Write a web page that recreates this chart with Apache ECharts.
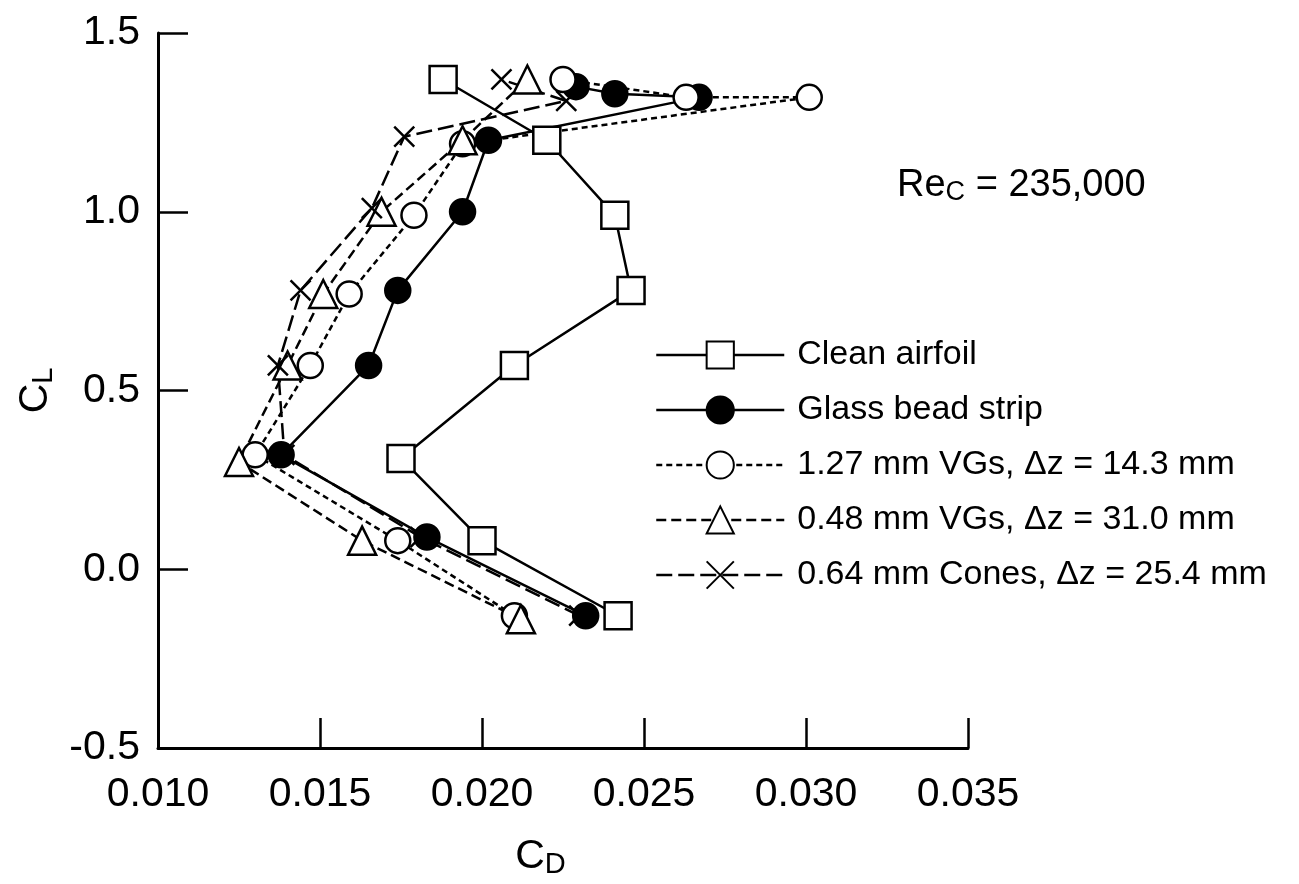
<!DOCTYPE html>
<html>
<head>
<meta charset="utf-8">
<title>CL vs CD</title>
<script src="https://cdn.jsdelivr.net/npm/echarts@6/dist/echarts.min.js"></script>
<style>
  html, body { margin: 0; padding: 0; background: #fff; }
  #chart { width: 1299px; height: 884px; }
</style>
</head>
<body>
<div id="chart"></div>
<script>
// values, in plotting order
var cleanCD = [0.0242, 0.0200, 0.0175, 0.0210, 0.0246, 0.0241, 0.0220, 0.0188];
var cleanCL = [-0.13, 0.08, 0.31, 0.57, 0.78, 0.99, 1.20, 1.37];

var beadCD = [0.0232, 0.0183, 0.0138, 0.0165, 0.0174, 0.0194, 0.0202, 0.0267, 0.0241, 0.0229];
var beadCL = [-0.13, 0.09, 0.32, 0.57, 0.78, 1.00, 1.20, 1.32, 1.33, 1.35];

var vg127CD = [0.0210, 0.0174, 0.0130, 0.0147, 0.0159, 0.0179, 0.0194, 0.0301, 0.0263, 0.0225];
var vg127CL = [-0.13, 0.08, 0.32, 0.57, 0.77, 0.99, 1.19, 1.32, 1.32, 1.37];

var vg048CD = [0.0212, 0.0163, 0.0125, 0.0140, 0.0151, 0.0169, 0.0194, 0.0214];
var vg048CL = [-0.14, 0.08, 0.30, 0.57, 0.77, 1.00, 1.20, 1.37];

var coneCD = [0.0230, 0.0181, 0.0139, 0.0137, 0.0144, 0.0166, 0.0176, 0.0226, 0.0206];
var coneCL = [-0.13, 0.09, 0.32, 0.57, 0.78, 1.01, 1.21, 1.31, 1.37];

var seriesNames = ['Clean airfoil', 'Glass bead strip', '1.27 mm VGs, \u0394z = 14.3 mm',
  '0.48 mm VGs, \u0394z = 31.0 mm', '0.64 mm Cones, \u0394z = 25.4 mm'];
var xTicks = [0.010, 0.015, 0.020, 0.025, 0.030, 0.035];
var yTicks = [-0.5, 0.0, 0.5, 1.0, 1.5];

var FONT = "'Liberation Sans', Arial, sans-serif";
var chart = echarts.init(document.getElementById('chart'));

function pairs(xs, ys) {
  var out = [];
  for (var i = 0; i < xs.length; i++) out.push([xs[i], ys[i]]);
  return out;
}

function makeSeries(name, xs, ys, symbol, size, fill, dash) {
  return {
    name: name,
    type: 'line',
    data: pairs(xs, ys),
    symbol: symbol,
    symbolSize: size,
    showAllSymbol: true,
    animation: false,
    lineStyle: { color: '#000', width: 2.5, type: dash },
    itemStyle: { color: fill, borderColor: '#000', borderWidth: 2.5 }
  };
}

var option = {
  backgroundColor: '#fff',
  animation: false,
  grid: { left: 158, right: 331, top: 33, bottom: 125 },
  title: {
    left: 892, top: 160,
    text: 'Re{s|C} = 235,000',
    textStyle: {
      fontFamily: FONT, fontSize: 38, fontWeight: 'normal', color: '#000',
      rich: { s: { fontFamily: FONT, fontSize: 27, padding: [14, 0, 0, 0], color: '#000' } }
    }
  },
  legend: {
    orient: 'vertical',
    left: 650, top: 333,
    itemWidth: 128, itemHeight: 34, itemGap: 21,
    lineStyle: { width: 2.5 },
    textStyle: { fontFamily: FONT, fontSize: 34, color: '#000', padding: [0, 0, 14, 8] },
    data: seriesNames
  },
  xAxis: {
    type: 'value',
    min: 0.010, max: 0.035, interval: 0.005,
    splitLine: { show: false },
    axisLine: { onZero: false, lineStyle: { color: '#000', width: 3 } },
    axisTick: { inside: true, length: 30, lineStyle: { color: '#000', width: 2.5 } },
    axisLabel: {
      fontFamily: FONT, fontSize: 41, color: '#000', margin: 26,
      formatter: function (v) { return v.toFixed(3); }
    },
    name: 'C{s|D}',
    nameLocation: 'middle', nameGap: 86,
    nameTextStyle: {
      fontFamily: FONT, fontSize: 41, color: '#000', padding: [0, 45, 0, 0],
      rich: { s: { fontFamily: FONT, fontSize: 29, padding: [16, 0, 0, 0], color: '#000' } }
    }
  },
  yAxis: {
    type: 'value',
    min: -0.5, max: 1.5, interval: 0.5,
    splitLine: { show: false },
    axisLine: { onZero: false, lineStyle: { color: '#000', width: 3 } },
    axisTick: { inside: true, length: 30, lineStyle: { color: '#000', width: 2.5 } },
    axisLabel: {
      fontFamily: FONT, fontSize: 41, color: '#000', margin: 18,
      formatter: function (v) { return v.toFixed(1); }
    },
    name: 'C{s|L}',
    nameLocation: 'middle', nameGap: 96, nameRotate: 90,
    nameTextStyle: {
      fontFamily: FONT, fontSize: 41, color: '#000',
      rich: { s: { fontFamily: FONT, fontSize: 29, padding: [16, 0, 0, 0], color: '#000' } }
    }
  },
  series: [
    makeSeries(seriesNames[0], cleanCD, cleanCL, 'rect', 27, '#fff', 'solid'),
    makeSeries(seriesNames[1], beadCD, beadCL, 'circle', 25, '#000', 'solid'),
    makeSeries(seriesNames[2], vg127CD, vg127CL, 'circle', 25, '#fff', [6, 4]),
    makeSeries(seriesNames[3], vg048CD, vg048CL, 'triangle', 28, '#fff', [10, 5]),
    makeSeries(seriesNames[4], coneCD, coneCL, 'path://M0,0L10,12M10,0L0,12', 20, '#000', [16, 6])
  ]
};
chart.setOption(option);
</script>
</body>
</html>
